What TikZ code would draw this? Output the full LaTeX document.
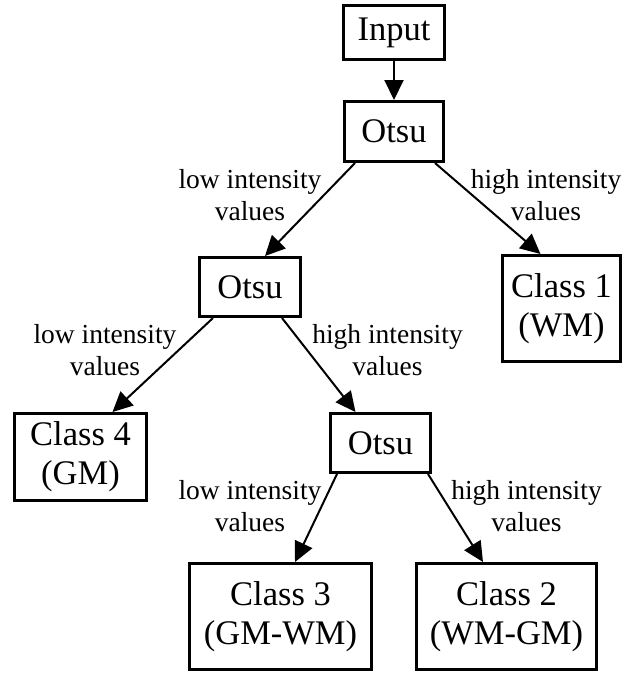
\documentclass[tikz,border=0pt]{standalone}
\usepackage{fontspec}
\setmainfont{Liberation Serif}
\usetikzlibrary{arrows.meta,calc}
\begin{document}
\begin{tikzpicture}[x=1pt,y=-1pt,
  box/.style={draw, line width=2.6pt, inner sep=0pt, align=center,
    font=\fontsize{34.5}{39}\selectfont},
  lbl/.style={inner sep=0pt, align=center, font=\fontsize{27.5}{32}\selectfont},
  link/.style={line width=2pt, -{Triangle[length=20pt,width=19pt]}}]
\useasboundingbox (0,0) rectangle (624,673);

% boxes
\node[box, minimum width=101.4pt, minimum height=54.4pt] (in) at (394,32.5) {Input};
\node[box, minimum width=99.4pt,  minimum height=60.4pt] (o1) at (394,131.5) {Otsu};
\node[box, minimum width=101.4pt, minimum height=59.4pt] (o2) at (250,287) {Otsu};
\node[box, minimum width=118.4pt, minimum height=106.4pt] (c1) at (561.5,308.5) {Class 1\\(WM)};
\node[box, minimum width=132.4pt, minimum height=87.4pt] (c4) at (80.5,457) {Class 4\\(GM)};
\node[box, minimum width=100.4pt, minimum height=59.4pt] (o3) at (380.5,443) {Otsu};
\node[box, minimum width=182.4pt, minimum height=106.4pt] (c3) at (280.5,616.5) {Class 3\\(GM-WM)};
\node[box, minimum width=180.4pt, minimum height=106.4pt] (c2) at (506.5,616.5) {Class 2\\(WM-GM)};

% connectors
\draw[link] (in) -- (o1);
\draw[link] ($(o1.south)+(-39,0)$) -- ($(o2.north)+(15,0)$);
\draw[link] ($(o1.south)+(41,0)$) -- ($(c1.north)+(-21,0)$);
\draw[link] ($(o2.south)+(-37,0)$) -- ($(c4.north)+(32,0)$);
\draw[link] ($(o2.south)+(32,0)$) -- ($(o3.north)+(-25,0)$);
\draw[link] ($(o3.south)+(-43.5,0)$) -- ($(c3.north)+(14.5,0)$);
\draw[link] ($(o3.south)+(47.5,0)$) -- ($(c2.north)+(-23.5,0)$);

% edge labels
\node[lbl] (l1) at (250,194.6) {low intensity\\values};
\node[lbl] (l2) at (546,194.6) {high intensity\\values};
\node[lbl] (l3) at (105,349.6) {low intensity\\values};
\node[lbl] (l4) at (387.5,349.6) {high intensity\\values};
\node[lbl] (l5) at (250,506.5) {low intensity\\values};
\node[lbl] (l6) at (526.5,506.5) {high intensity\\values};
\end{tikzpicture}
\end{document}
